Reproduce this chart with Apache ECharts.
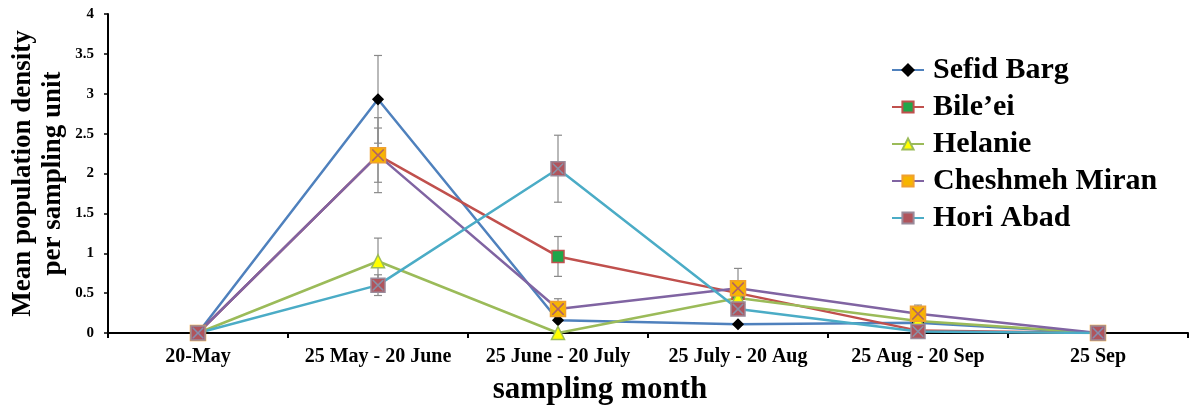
<!DOCTYPE html>
<html>
<head>
<meta charset="utf-8">
<script src="https://cdn.jsdelivr.net/npm/echarts@6/dist/echarts.min.js"></script>
<style>
  html, body { margin: 0; padding: 0; background: #fff; }
  #chart { width: 1192px; height: 407px; }
</style>
</head>
<body>
<div id="chart"></div>
<script>
// categories and values
var months = ['20-May', '25 May - 20 June', '25 June - 20 July', '25 July - 20 Aug', '25 Aug - 20 Sep', '25 Sep'];
var sefidBarg = [0, 2.93, 0.16, 0.11, 0.13, 0];
var bileei = [0, 2.23, 0.96, 0.50, 0.03, 0];
var helanie = [0, 0.90, 0, 0.44, 0.15, 0];
var cheshmehMiran = [0, 2.23, 0.30, 0.56, 0.24, 0];
var horiAbad = [0, 0.60, 2.06, 0.30, 0.02, 0];
// error (+/-) per point
var sefidBargErr = [0, 0.55, 0, 0, 0, 0];
var bileeiErr = [0, 0.34, 0.25, 0, 0, 0];
var helanieErr = [0, 0.29, 0, 0, 0, 0];
var cheshmehMiranErr = [0, 0.47, 0.13, 0.25, 0.11, 0];
var horiAbadErr = [0, 0.13, 0.42, 0, 0, 0];

var serif = 'Liberation Serif, Times New Roman, serif';
var crossPath = 'path://M0,0 L2,0 L10,8 L18,0 L20,0 L20,2 L12,10 L20,18 L20,20 L18,20 L10,12 L2,20 L0,20 L0,18 L8,10 L0,2 Z';

var chart = echarts.init(document.getElementById('chart'));

// build [x, low, high] for the error bars
function errData(vals, errs) {
    var out = [];
    vals.forEach(function (v, i) {
        if (errs[i] > 0) {
            out.push([i, v - errs[i], v + errs[i]]);
        }
    });
    return out;
}

var allErr = [].concat(
    errData(sefidBarg, sefidBargErr),
    errData(bileei, bileeiErr),
    errData(helanie, helanieErr),
    errData(cheshmehMiran, cheshmehMiranErr),
    errData(horiAbad, horiAbadErr)
);

function lineSeries(name, data, lineColor, symbol, fill, border, size) {
    return {
        name: name,
        type: 'line',
        data: data,
        symbol: symbol,
        symbolSize: size,
        z: 3,
        lineStyle: { color: lineColor, width: 2.5 },
        itemStyle: { color: fill, borderColor: border, borderWidth: 1.5 },
        emphasis: { disabled: true }
    };
}

// the little x drawn over the square markers
function crossSeries(data, color, size, z) {
    return {
        type: 'scatter',
        data: data,
        symbol: crossPath,
        symbolSize: size,
        z: z,
        silent: true,
        itemStyle: { color: color, opacity: 0.8 }
    };
}

chart.setOption({
    backgroundColor: '#fff',
    animation: false,
    grid: { left: 108, right: 4, top: 14, bottom: 74, outerBoundsMode: 'none' },
    legend: {
        orient: 'vertical',
        left: 886,
        top: 50,
        itemWidth: 32,
        itemHeight: 14,
        itemGap: 7,
        textStyle: { fontFamily: serif, fontWeight: 'bold', fontSize: 30, color: '#000', padding: [0, 0, 0, 4] },
        data: ['Sefid Barg', 'Bile\u2019ei', 'Helanie', 'Cheshmeh Miran', 'Hori Abad']
    },
    xAxis: {
        type: 'category',
        data: months,
        name: 'sampling month',
        nameLocation: 'middle',
        nameGap: 41,
        nameTextStyle: { fontFamily: serif, fontWeight: 'bold', fontSize: 31, color: '#000', padding: [0, 96, 0, 0] },
        axisLine: { lineStyle: { color: '#000', width: 2 } },
        axisTick: { show: true, length: 5, lineStyle: { color: '#000', width: 2 } },
        axisLabel: { interval: 0, margin: 14, fontFamily: serif, fontWeight: 'bold', fontSize: 20, color: '#000' },
        splitLine: { show: false }
    },
    yAxis: {
        type: 'value',
        min: 0,
        max: 4,
        interval: 0.5,
        name: 'Mean population density\nper sampling unit',
        nameLocation: 'middle',
        nameGap: 40,
        nameMoveOverlap: false,
        nameTextStyle: { fontFamily: serif, fontWeight: 'bold', fontSize: 27, color: '#000', lineHeight: 30 },
        axisLine: { show: true, lineStyle: { color: '#000', width: 2 } },
        axisTick: { show: true, length: 4, lineStyle: { color: '#000', width: 1.5 } },
        axisLabel: { margin: 14, fontFamily: serif, fontWeight: 'bold', fontSize: 15, color: '#000' },
        splitLine: { show: false }
    },
    series: [
        {
            // error bars
            type: 'custom',
            name: 'err',
            z: 2,
            silent: true,
            renderItem: function (params, api) {
                var x = api.value(0);
                var lo = api.coord([x, api.value(1)]);
                var hi = api.coord([x, api.value(2)]);
                var w = 4;
                var style = { stroke: '#8a8a8a', lineWidth: 1.2 };
                return {
                    type: 'group',
                    children: [
                        { type: 'line', shape: { x1: lo[0], y1: lo[1], x2: hi[0], y2: hi[1] }, style: style },
                        { type: 'line', shape: { x1: hi[0] - w, y1: hi[1], x2: hi[0] + w, y2: hi[1] }, style: style },
                        { type: 'line', shape: { x1: lo[0] - w, y1: lo[1], x2: lo[0] + w, y2: lo[1] }, style: style }
                    ]
                };
            },
            encode: { x: 0, y: [1, 2] },
            data: allErr
        },
        lineSeries('Sefid Barg', sefidBarg, '#4f81bd', 'diamond', '#000', '#000', 10),
        lineSeries('Bile\u2019ei', bileei, '#c0504d', 'rect', '#1fa64a', '#c0504d', 12),
        lineSeries('Helanie', helanie, '#9bbb59', 'triangle', '#ffff00', '#9bbb59', 13),
        lineSeries('Cheshmeh Miran', cheshmehMiran, '#8064a2', 'rect', '#f7b500', '#f0a030', 15),
        crossSeries(cheshmehMiran, '#a0507a', 12, 4),
        lineSeries('Hori Abad', horiAbad, '#4bacc6', 'rect', '#b0545c', '#9a8a9a', 14),
        crossSeries(horiAbad, '#7f9fb8', 11, 5)
    ]
});
</script>
</body>
</html>
